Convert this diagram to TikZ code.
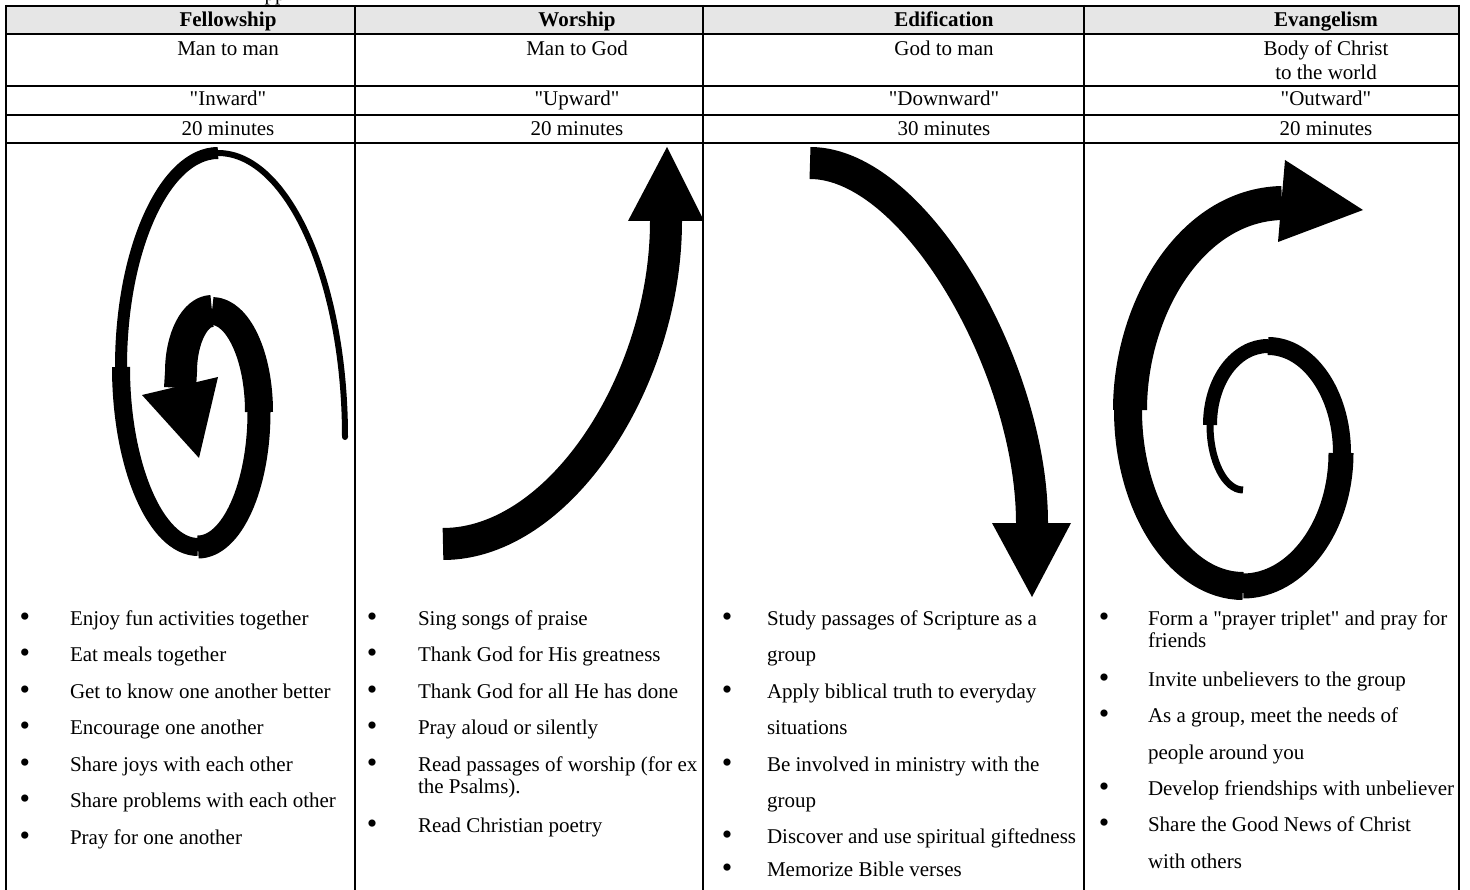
\documentclass[tikz,border=0pt]{standalone}
\usepackage{fontspec}
\setmainfont{Liberation Serif}[Ligatures=TeXOff]
\definecolor{headgray}{RGB}{230,230,230}
\tikzset{
  txt/.style={font=\fontsize{21}{25}\selectfont, inner sep=0pt, outer sep=0pt, anchor=base},
  hd/.style={txt, font=\fontsize{21}{25}\selectfont\bfseries},
  itm/.style={txt, anchor=base west},
  bul/.style={txt, anchor=base, font=\fontsize{30}{30}\selectfont, yshift=-1pt},
  rule/.style={line width=2pt, draw=black},
  band/.style={draw=black, line cap=butt, line join=round},
  head/.style={fill=black, draw=none}
}
\begin{document}
\begin{tikzpicture}[x=1pt,y=-1pt]
\useasboundingbox (0,0) rectangle (1470,890);
\fill[white] (0,0) rectangle (1470,890);
% cut-off title (only its descenders show)
\node[txt] (title) at (275,0.5) {pp};
% header band
\fill[headgray] (6,6) rectangle (1459,34);
% table rules
\foreach \yy in {6,34,86,115,143} { \draw[rule] (5,\yy) -- (1460,\yy); }
\foreach \xx in {6,355,703,1084,1459} { \draw[rule] (\xx,5) -- (\xx,890); }

% header row
\node[hd] (h1) at (228,27) {Fellowship};
\node[hd] (h2) at (577,27) {Worship};
\node[hd] (h3) at (944,27) {Edification};
\node[hd] (h4) at (1326,27) {Evangelism};
% direction row
\node[txt] (d1) at (228,56) {Man to man};
\node[txt] (d2) at (577,56) {Man to God};
\node[txt] (d3) at (944,56) {God to man};
\node[txt] (d4a) at (1326,56) {Body of Christ};
\node[txt] (d4b) at (1326,80) {to the world};
% word row
\node[txt] (w1) at (228,106) {"Inward"};
\node[txt] (w2) at (577,106) {"Upward"};
\node[txt] (w3) at (944,106) {"Downward"};
\node[txt] (w4) at (1326,106) {"Outward"};
% time row
\node[txt] (t1) at (228,136) {20 minutes};
\node[txt] (t2) at (577,136) {20 minutes};
\node[txt] (t3) at (944,136) {30 minutes};
\node[txt] (t4) at (1326,136) {20 minutes};

% ---- Fellowship spiral (inward) ----
\draw[band, line width=6pt, line cap=round] (345,437) .. controls (345,281) and (288,153) .. (218,153);
\draw[band, line width=12pt] (218,153) .. controls (165,153) and (121,249) .. (121,367);
\draw[band, line width=18pt] (121,367) .. controls (121,466) and (156,547) .. (198,547);
\draw[band, line width=23pt] (198,547) .. controls (232,547) and (259,486) .. (259,412);
\draw[band, line width=28pt] (259,412) .. controls (259,356) and (238,311) .. (212,311);
\draw[band, line width=32pt] (212,311) .. controls (195,311) and (181,338) .. (181,372) -- (180,388);
\fill[head] (142,395) -- (218,377) -- (199,458) -- cycle;

% ---- Worship arrow (upward) ----
\draw[band, line width=32pt] (443,544) .. controls (560,544) and (666,380) .. (666,221);
\fill[head] (628,221) -- (704,221) -- (667,147) -- cycle;

% ---- Edification arrow (downward) ----
\draw[band, line width=32pt] (810,163) .. controls (915,163) and (1032,368) .. (1032,523);
\fill[head] (992,523) -- (1071,523) -- (1032,597) -- cycle;

% ---- Evangelism spiral (outward) ----
\draw[band, line width=7pt] (1243,490) .. controls (1225,490) and (1210,461) .. (1210,425);
\draw[band, line width=14pt] (1210,425) .. controls (1210,380) and (1236,346) .. (1268,346);
\draw[band, line width=18pt] (1268,346) .. controls (1309,346) and (1342,394) .. (1342,453);
\draw[band, line width=25pt] (1341,453) .. controls (1341,526) and (1297,586) .. (1243,586);
\draw[band, line width=28pt] (1243,586) .. controls (1180,586) and (1128,507) .. (1128,410);
\draw[band, line width=34pt] (1130,410) .. controls (1130,310) and (1190,205) .. (1282,203);
\fill[head] (1285,160) -- (1363,210) -- (1278,242) -- cycle;

% ---- Fellowship list ----
\foreach \yy [count=\i] in {625,661.5,698,734.5,771,807.5,844} { \node[bul] (fb\i) at (25,\yy) {•}; }
\node[itm] (f1) at (70,625) {Enjoy fun activities together};
\node[itm] (f2) at (70,661.5) {Eat meals together};
\node[itm] (f3) at (70,698) {Get to know one another better};
\node[itm] (f4) at (70,734.5) {Encourage one another};
\node[itm] (f5) at (70,771) {Share joys with each other};
\node[itm] (f6) at (70,807.5) {Share problems with each other};
\node[itm] (f7) at (70,844) {Pray for one another};

% ---- Worship list ----
\foreach \yy [count=\i] in {625,661.5,698,734.5,771,832} { \node[bul] (wb\i) at (372,\yy) {•}; }
\node[itm] (g1) at (418,625) {Sing songs of praise};
\node[itm] (g2) at (418,661.5) {Thank God for His greatness};
\node[itm] (g3) at (418,698) {Thank God for all He has done};
\node[itm] (g4) at (418,734.5) {Pray aloud or silently};
\node[itm] (g5a) at (418,771) {Read passages of worship (for ex};
\node[itm] (g5b) at (418,793) {the Psalms).};
\node[itm] (g6) at (418,832) {Read Christian poetry};

% ---- Edification list ----
\foreach \yy [count=\i] in {625,698,771,843,876} { \node[bul] (eb\i) at (727,\yy) {•}; }
\node[itm] (e1a) at (767,625) {Study passages of Scripture as a};
\node[itm] (e1b) at (767,661.5) {group};
\node[itm] (e2a) at (767,698) {Apply biblical truth to everyday};
\node[itm] (e2b) at (767,734.5) {situations};
\node[itm] (e3a) at (767,771) {Be involved in ministry with the};
\node[itm] (e3b) at (767,807.5) {group};
\node[itm] (e4) at (767,843) {Discover and use spiritual giftedness};
\node[itm] (e5) at (767,876) {Memorize Bible verses};

% ---- Evangelism list ----
\foreach \yy [count=\i] in {625,686,722,795,831} { \node[bul] (vb\i) at (1104,\yy) {•}; }
\begin{scope}
\clip (1085,580) rectangle (1458,890);
\node[itm] (v1a) at (1148,625) {Form a "prayer triplet" and pray for};
\node[itm] (v1b) at (1148,647) {friends};
\node[itm] (v2) at (1148,686) {Invite unbelievers to the group};
\node[itm] (v3a) at (1148,722) {As a group, meet the needs of};
\node[itm] (v3b) at (1148,759) {people around you};
\node[itm] (v4) at (1148,795) {Develop friendships with unbeliever};
\node[itm] (v5a) at (1148,831) {Share the Good News of Christ};
\node[itm] (v5b) at (1148,868) {with others};
\end{scope}
\end{tikzpicture}
\end{document}
